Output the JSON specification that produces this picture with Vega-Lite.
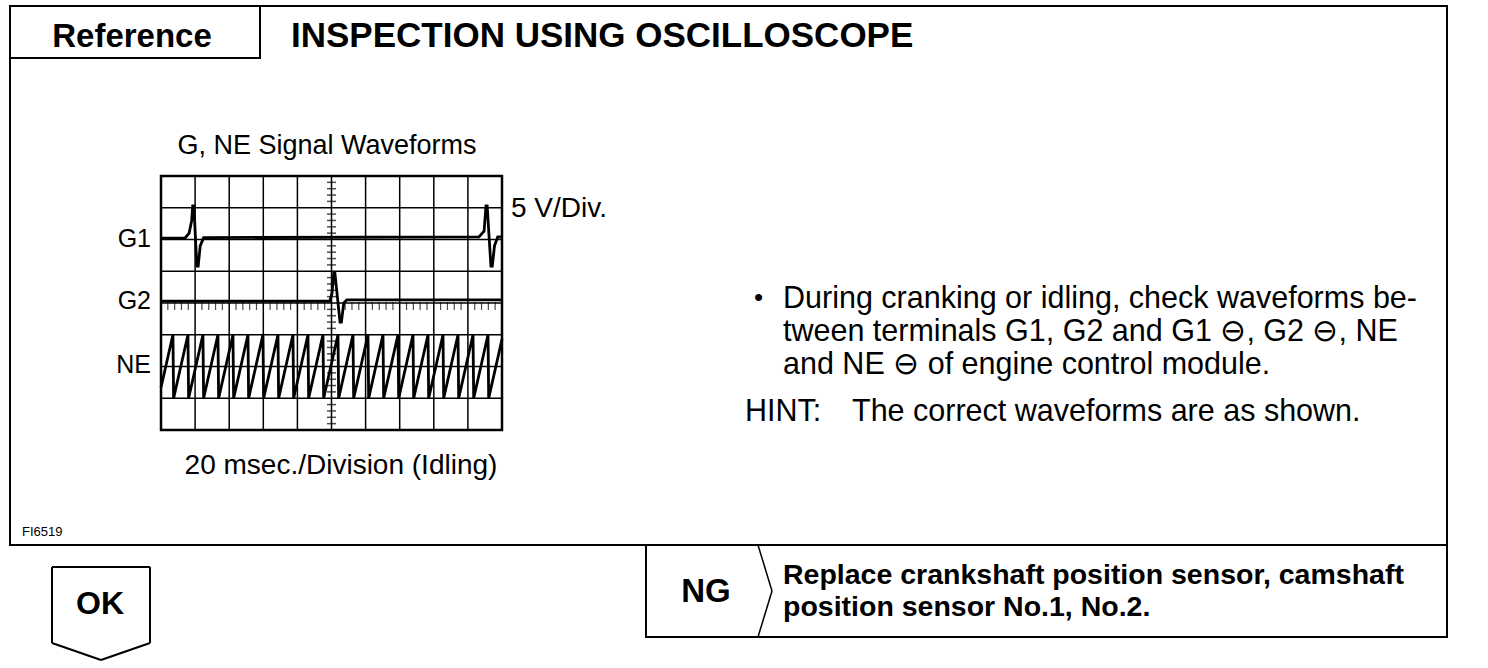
{
  "$schema": "https://vega.github.io/schema/vega-lite/v6.json",
  "width": 1488,
  "height": 668,
  "padding": 0,
  "autosize": {"type": "none"},
  "background": "white",
  "config": {"view": {"stroke": null}, "axis": {"disable": true}, "font": "Liberation Sans", "text": {"color": "black"}},
  "resolve": {"scale": {"x": "independent", "y": "independent"}},
  "layer": [
    {
      "layer": [
        {
          "data": {"values": [{"t": 20}, {"t": 40}, {"t": 60}, {"t": 80}, {"t": 100}, {"t": 120}, {"t": 140}, {"t": 160}, {"t": 180}]},
          "mark": {"type": "rule", "color": "black", "strokeWidth": 1.5},
          "encoding": {
            "x": {"field": "t", "type": "quantitative", "scale": {"domain": [0, 200], "range": [161, 502], "nice": false, "zero": false}},
            "y": {"datum": 0, "type": "quantitative", "scale": {"domain": [0, 40], "range": [430, 176], "nice": false, "zero": false}},
            "y2": {"datum": 40}
          }
        },
        {
          "data": {"values": [{"v": 5}, {"v": 10}, {"v": 15}, {"v": 20}, {"v": 25}, {"v": 30}, {"v": 35}]},
          "mark": {"type": "rule", "color": "black", "strokeWidth": 1.5},
          "encoding": {
            "y": {"field": "v", "type": "quantitative"},
            "x": {"datum": 0, "type": "quantitative"},
            "x2": {"datum": 200}
          }
        },
        {
          "data": {"values": [{"box": "screen"}]},
          "mark": {"type": "rect", "fill": null, "stroke": "black", "strokeWidth": 2.5},
          "encoding": {
            "x": {"datum": 0, "type": "quantitative"},
            "x2": {"datum": 200},
            "y": {"datum": 0, "type": "quantitative"},
            "y2": {"datum": 40}
          }
        },
        {
          "data": {"values": [{"v": 1}, {"v": 2}, {"v": 3}, {"v": 4}, {"v": 6}, {"v": 7}, {"v": 8}, {"v": 9}, {"v": 11}, {"v": 12}, {"v": 13}, {"v": 14}, {"v": 16}, {"v": 17}, {"v": 18}, {"v": 19}, {"v": 21}, {"v": 22}, {"v": 23}, {"v": 24}, {"v": 26}, {"v": 27}, {"v": 28}, {"v": 29}, {"v": 31}, {"v": 32}, {"v": 33}, {"v": 34}, {"v": 36}, {"v": 37}, {"v": 38}, {"v": 39}]},
          "mark": {"type": "tick", "orient": "horizontal", "size": 9, "thickness": 1.5, "color": "black"},
          "encoding": {
            "y": {"field": "v", "type": "quantitative"},
            "x": {"datum": 100, "type": "quantitative"}
          }
        },
        {
          "data": {"values": [{"t": 4}, {"t": 8}, {"t": 12}, {"t": 16}, {"t": 24}, {"t": 28}, {"t": 32}, {"t": 36}, {"t": 44}, {"t": 48}, {"t": 52}, {"t": 56}, {"t": 64}, {"t": 68}, {"t": 72}, {"t": 76}, {"t": 84}, {"t": 88}, {"t": 92}, {"t": 96}, {"t": 104}, {"t": 108}, {"t": 112}, {"t": 116}, {"t": 124}, {"t": 128}, {"t": 132}, {"t": 136}, {"t": 144}, {"t": 148}, {"t": 152}, {"t": 156}, {"t": 164}, {"t": 168}, {"t": 172}, {"t": 176}, {"t": 184}, {"t": 188}, {"t": 192}, {"t": 196}]},
          "mark": {"type": "tick", "orient": "vertical", "size": 8, "thickness": 1.2, "color": "black", "yOffset": 3},
          "encoding": {
            "x": {"field": "t", "type": "quantitative"},
            "y": {"datum": 20, "type": "quantitative"}
          }
        },
        {
          "data": {"values": [
            {"ch": "G1", "t": 0, "v": 30.2}, {"ch": "G1", "t": 14, "v": 30.2}, {"ch": "G1", "t": 16.5, "v": 31}, {"ch": "G1", "t": 18, "v": 33}, {"ch": "G1", "t": 18.6, "v": 35.3}, {"ch": "G1", "t": 19.3, "v": 35.3}, {"ch": "G1", "t": 21, "v": 25.8}, {"ch": "G1", "t": 21.8, "v": 25.8}, {"ch": "G1", "t": 23, "v": 29}, {"ch": "G1", "t": 25, "v": 30.3}, {"ch": "G1", "t": 186.5, "v": 30.4}, {"ch": "G1", "t": 189.5, "v": 31.3}, {"ch": "G1", "t": 190.6, "v": 35.3}, {"ch": "G1", "t": 191.3, "v": 35.3}, {"ch": "G1", "t": 193.5, "v": 25.8}, {"ch": "G1", "t": 194.3, "v": 25.8}, {"ch": "G1", "t": 195.6, "v": 29}, {"ch": "G1", "t": 197.5, "v": 30.4}, {"ch": "G1", "t": 200, "v": 30.4},
            {"ch": "G2", "t": 0, "v": 20.3}, {"ch": "G2", "t": 99, "v": 20.3}, {"ch": "G2", "t": 100.3, "v": 21.5}, {"ch": "G2", "t": 101.3, "v": 24.7}, {"ch": "G2", "t": 102, "v": 24.7}, {"ch": "G2", "t": 105, "v": 17}, {"ch": "G2", "t": 105.8, "v": 17}, {"ch": "G2", "t": 107.2, "v": 20}, {"ch": "G2", "t": 109, "v": 20.5}, {"ch": "G2", "t": 200, "v": 20.5},
            {"ch": "NE", "t": 0, "v": 6.7},
            {"ch": "NE", "t": 7.0, "v": 15}, {"ch": "NE", "t": 7.4, "v": 5},
            {"ch": "NE", "t": 15.8, "v": 15}, {"ch": "NE", "t": 16.2, "v": 5},
            {"ch": "NE", "t": 24.6, "v": 15}, {"ch": "NE", "t": 25.0, "v": 5},
            {"ch": "NE", "t": 33.4, "v": 15}, {"ch": "NE", "t": 33.8, "v": 5},
            {"ch": "NE", "t": 42.2, "v": 15}, {"ch": "NE", "t": 42.6, "v": 5},
            {"ch": "NE", "t": 51.0, "v": 15}, {"ch": "NE", "t": 51.4, "v": 5},
            {"ch": "NE", "t": 59.8, "v": 15}, {"ch": "NE", "t": 60.2, "v": 5},
            {"ch": "NE", "t": 68.6, "v": 15}, {"ch": "NE", "t": 69.0, "v": 5},
            {"ch": "NE", "t": 77.4, "v": 15}, {"ch": "NE", "t": 77.8, "v": 5},
            {"ch": "NE", "t": 86.2, "v": 15}, {"ch": "NE", "t": 86.6, "v": 5},
            {"ch": "NE", "t": 95.0, "v": 15}, {"ch": "NE", "t": 95.4, "v": 5},
            {"ch": "NE", "t": 103.8, "v": 15}, {"ch": "NE", "t": 104.2, "v": 5},
            {"ch": "NE", "t": 112.6, "v": 15}, {"ch": "NE", "t": 113.0, "v": 5},
            {"ch": "NE", "t": 121.4, "v": 15}, {"ch": "NE", "t": 121.8, "v": 5},
            {"ch": "NE", "t": 130.2, "v": 15}, {"ch": "NE", "t": 130.6, "v": 5},
            {"ch": "NE", "t": 139.0, "v": 15}, {"ch": "NE", "t": 139.4, "v": 5},
            {"ch": "NE", "t": 147.8, "v": 15}, {"ch": "NE", "t": 148.2, "v": 5},
            {"ch": "NE", "t": 156.6, "v": 15}, {"ch": "NE", "t": 157.0, "v": 5},
            {"ch": "NE", "t": 165.4, "v": 15}, {"ch": "NE", "t": 165.8, "v": 5},
            {"ch": "NE", "t": 174.2, "v": 15}, {"ch": "NE", "t": 174.6, "v": 5},
            {"ch": "NE", "t": 183.0, "v": 15}, {"ch": "NE", "t": 183.4, "v": 5},
            {"ch": "NE", "t": 191.8, "v": 15}, {"ch": "NE", "t": 192.2, "v": 5},
            {"ch": "NE", "t": 200, "v": 14.3}
          ]},
          "mark": {"type": "line", "color": "black", "strokeWidth": 2.8, "strokeJoin": "miter"},
          "encoding": {
            "x": {"field": "t", "type": "quantitative"},
            "y": {"field": "v", "type": "quantitative"},
            "detail": {"field": "ch", "type": "nominal"}
          }
        }
      ]
    },
    {
      "layer": [
        {
          "data": {"values": [{"part": "main"}]},
          "mark": {"type": "rect", "fill": null, "stroke": "black", "strokeWidth": 2},
          "encoding": {
            "x": {"datum": 10, "type": "quantitative", "scale": {"domain": [0, 1488], "range": [0, 1488], "nice": false, "zero": false}},
            "x2": {"datum": 1447},
            "y": {"datum": 6, "type": "quantitative", "scale": {"domain": [0, 668], "range": [0, 668], "nice": false, "zero": false}},
            "y2": {"datum": 545}
          }
        },
        {
          "data": {"values": [{"part": "reference"}]},
          "mark": {"type": "rect", "fill": null, "stroke": "black", "strokeWidth": 2},
          "encoding": {
            "x": {"datum": 10, "type": "quantitative"},
            "x2": {"datum": 260},
            "y": {"datum": 6, "type": "quantitative"},
            "y2": {"datum": 58}
          }
        },
        {
          "data": {"values": [{"part": "ng"}]},
          "mark": {"type": "rect", "fill": null, "stroke": "black", "strokeWidth": 2},
          "encoding": {
            "x": {"datum": 646, "type": "quantitative"},
            "x2": {"datum": 1447},
            "y": {"datum": 545, "type": "quantitative"},
            "y2": {"datum": 637}
          }
        },
        {
          "data": {"values": [{"part": "chevron"}]},
          "mark": {"type": "rule", "color": "black", "strokeWidth": 1.5},
          "encoding": {
            "x": {"datum": 758, "type": "quantitative"}, "x2": {"datum": 772},
            "y": {"datum": 545, "type": "quantitative"}, "y2": {"datum": 591}
          }
        },
        {
          "data": {"values": [{"part": "chevron"}]},
          "mark": {"type": "rule", "color": "black", "strokeWidth": 1.5},
          "encoding": {
            "x": {"datum": 772, "type": "quantitative"}, "x2": {"datum": 758},
            "y": {"datum": 591, "type": "quantitative"}, "y2": {"datum": 637}
          }
        },
        {
          "data": {"values": [{"part": "ok"}]},
          "mark": {"type": "rule", "color": "black", "strokeWidth": 2},
          "encoding": {
            "x": {"datum": 52, "type": "quantitative"}, "x2": {"datum": 150},
            "y": {"datum": 567, "type": "quantitative"}, "y2": {"datum": 567}
          }
        },
        {
          "data": {"values": [{"part": "ok"}]},
          "mark": {"type": "rule", "color": "black", "strokeWidth": 2},
          "encoding": {
            "x": {"datum": 52, "type": "quantitative"}, "x2": {"datum": 52},
            "y": {"datum": 567, "type": "quantitative"}, "y2": {"datum": 643}
          }
        },
        {
          "data": {"values": [{"part": "ok"}]},
          "mark": {"type": "rule", "color": "black", "strokeWidth": 2},
          "encoding": {
            "x": {"datum": 150, "type": "quantitative"}, "x2": {"datum": 150},
            "y": {"datum": 567, "type": "quantitative"}, "y2": {"datum": 643}
          }
        },
        {
          "data": {"values": [{"part": "ok"}]},
          "mark": {"type": "rule", "color": "black", "strokeWidth": 2},
          "encoding": {
            "x": {"datum": 52, "type": "quantitative"}, "x2": {"datum": 101},
            "y": {"datum": 643, "type": "quantitative"}, "y2": {"datum": 660}
          }
        },
        {
          "data": {"values": [{"part": "ok"}]},
          "mark": {"type": "rule", "color": "black", "strokeWidth": 2},
          "encoding": {
            "x": {"datum": 150, "type": "quantitative"}, "x2": {"datum": 101},
            "y": {"datum": 643, "type": "quantitative"}, "y2": {"datum": 660}
          }
        },
        {
          "data": {"values": [{"label": "Reference"}]},
          "mark": {"type": "text", "fontSize": 33, "fontWeight": "bold", "align": "center", "baseline": "alphabetic"},
          "encoding": {"x": {"datum": 132, "type": "quantitative"}, "y": {"datum": 47, "type": "quantitative"}, "text": {"field": "label"}}
        },
        {
          "data": {"values": [{"label": "INSPECTION USING OSCILLOSCOPE"}]},
          "mark": {"type": "text", "fontSize": 35, "fontWeight": "bold", "align": "left", "baseline": "alphabetic"},
          "encoding": {"x": {"datum": 291, "type": "quantitative"}, "y": {"datum": 47, "type": "quantitative"}, "text": {"field": "label"}}
        },
        {
          "data": {"values": [{"label": "G, NE Signal Waveforms"}]},
          "mark": {"type": "text", "fontSize": 27, "align": "center", "baseline": "alphabetic"},
          "encoding": {"x": {"datum": 327, "type": "quantitative"}, "y": {"datum": 154, "type": "quantitative"}, "text": {"field": "label"}}
        },
        {
          "data": {"values": [{"label": "5 V/Div."}]},
          "mark": {"type": "text", "fontSize": 28, "align": "left", "baseline": "alphabetic"},
          "encoding": {"x": {"datum": 511, "type": "quantitative"}, "y": {"datum": 217, "type": "quantitative"}, "text": {"field": "label"}}
        },
        {
          "data": {"values": [{"label": "G1"}]},
          "mark": {"type": "text", "fontSize": 25, "align": "right", "baseline": "alphabetic"},
          "encoding": {"x": {"datum": 151, "type": "quantitative"}, "y": {"datum": 247, "type": "quantitative"}, "text": {"field": "label"}}
        },
        {
          "data": {"values": [{"label": "G2"}]},
          "mark": {"type": "text", "fontSize": 25, "align": "right", "baseline": "alphabetic"},
          "encoding": {"x": {"datum": 151, "type": "quantitative"}, "y": {"datum": 309, "type": "quantitative"}, "text": {"field": "label"}}
        },
        {
          "data": {"values": [{"label": "NE"}]},
          "mark": {"type": "text", "fontSize": 25, "align": "right", "baseline": "alphabetic"},
          "encoding": {"x": {"datum": 151, "type": "quantitative"}, "y": {"datum": 373, "type": "quantitative"}, "text": {"field": "label"}}
        },
        {
          "data": {"values": [{"label": "20 msec./Division (Idling)"}]},
          "mark": {"type": "text", "fontSize": 28, "align": "center", "baseline": "alphabetic"},
          "encoding": {"x": {"datum": 341, "type": "quantitative"}, "y": {"datum": 474, "type": "quantitative"}, "text": {"field": "label"}}
        },
        {
          "data": {"values": [{"label": "•"}]},
          "mark": {"type": "text", "fontSize": 26, "align": "left", "baseline": "alphabetic"},
          "encoding": {"x": {"datum": 754, "type": "quantitative"}, "y": {"datum": 306, "type": "quantitative"}, "text": {"field": "label"}}
        },
        {
          "data": {"values": [{"lines": ["During cranking or idling, check waveforms be-", "tween terminals G1, G2 and G1 ⊖, G2 ⊖, NE", "and NE ⊖ of engine control module."]}]},
          "mark": {"type": "text", "fontSize": 30.5, "align": "left", "baseline": "alphabetic", "lineHeight": 33},
          "encoding": {"x": {"datum": 783, "type": "quantitative"}, "y": {"datum": 308, "type": "quantitative"}, "text": {"field": "lines"}}
        },
        {
          "data": {"values": [{"label": "HINT:"}]},
          "mark": {"type": "text", "fontSize": 30.5, "align": "left", "baseline": "alphabetic"},
          "encoding": {"x": {"datum": 745, "type": "quantitative"}, "y": {"datum": 421, "type": "quantitative"}, "text": {"field": "label"}}
        },
        {
          "data": {"values": [{"label": "The correct waveforms are as shown."}]},
          "mark": {"type": "text", "fontSize": 30.5, "align": "left", "baseline": "alphabetic"},
          "encoding": {"x": {"datum": 852, "type": "quantitative"}, "y": {"datum": 421, "type": "quantitative"}, "text": {"field": "label"}}
        },
        {
          "data": {"values": [{"label": "FI6519"}]},
          "mark": {"type": "text", "fontSize": 13, "align": "left", "baseline": "alphabetic"},
          "encoding": {"x": {"datum": 22, "type": "quantitative"}, "y": {"datum": 536, "type": "quantitative"}, "text": {"field": "label"}}
        },
        {
          "data": {"values": [{"label": "OK"}]},
          "mark": {"type": "text", "fontSize": 32, "fontWeight": "bold", "align": "center", "baseline": "alphabetic"},
          "encoding": {"x": {"datum": 100, "type": "quantitative"}, "y": {"datum": 614, "type": "quantitative"}, "text": {"field": "label"}}
        },
        {
          "data": {"values": [{"label": "NG"}]},
          "mark": {"type": "text", "fontSize": 33, "fontWeight": "bold", "align": "center", "baseline": "alphabetic"},
          "encoding": {"x": {"datum": 706, "type": "quantitative"}, "y": {"datum": 602, "type": "quantitative"}, "text": {"field": "label"}}
        },
        {
          "data": {"values": [{"lines": ["Replace crankshaft position sensor, camshaft", "position sensor No.1, No.2."]}]},
          "mark": {"type": "text", "fontSize": 28.5, "fontWeight": "bold", "align": "left", "baseline": "alphabetic", "lineHeight": 32},
          "encoding": {"x": {"datum": 783, "type": "quantitative"}, "y": {"datum": 584, "type": "quantitative"}, "text": {"field": "lines"}}
        }
      ]
    }
  ]
}
